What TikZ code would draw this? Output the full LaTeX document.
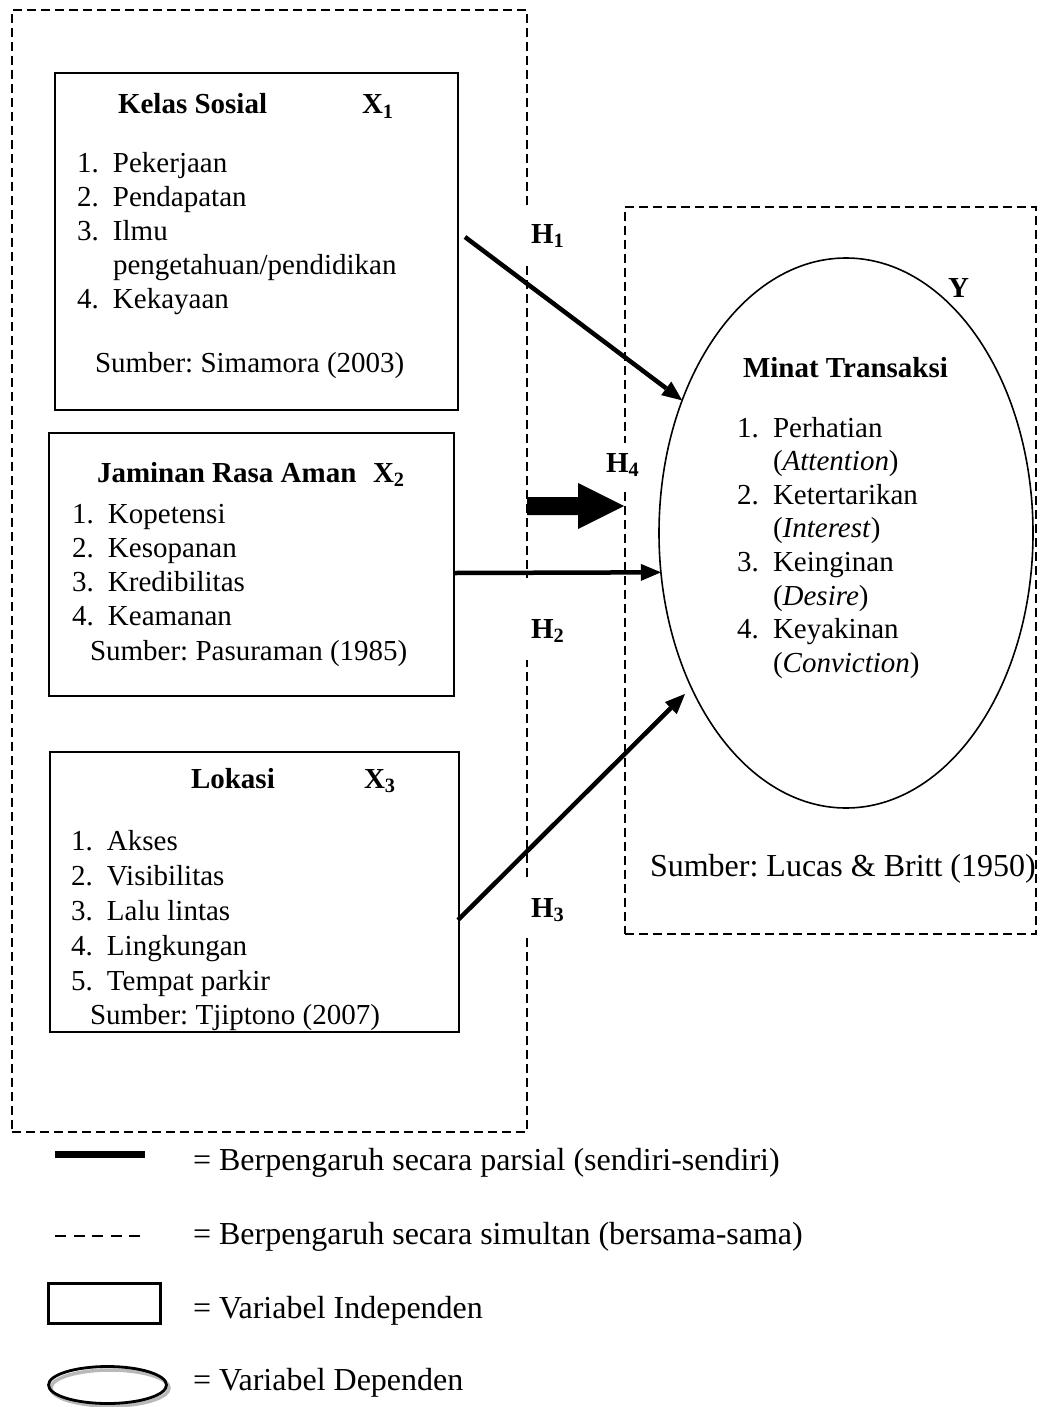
\documentclass[tikz,border=0pt]{standalone}
\usepackage{fontspec}
\setmainfont{Liberation Serif}
\usetikzlibrary{shapes.geometric,arrows.meta}
\newcommand{\numi}[1]{\makebox[36pt][l]{#1}}
\frenchspacing
\begin{document}
\begin{tikzpicture}[x=1pt,y=-1pt,
  every node/.style={font=\fontsize{29}{34}\selectfont, inner sep=0pt, outer sep=0pt},
  txt/.style={anchor=base west},
  bold/.style={font=\fontsize{29}{34}\selectfont\bfseries},
  wide/.style={font=\fontsize{29}{35}\selectfont},
  tight/.style={font=\fontsize{29}{33.6}\selectfont},
  big/.style={font=\fontsize{32}{38}\selectfont},
  indep/.style={draw, line width=1.8pt, inner sep=0pt},
  grp/.style={draw, line width=1.6pt, dash pattern=on 9pt off 5pt},
  arr/.style={line width=4.5pt, -{Triangle[length=20pt,width=17pt,line width=0pt]}}
]
\useasboundingbox (0,0) rectangle (1040,1407);

% group frames
\node[grp, minimum width=515pt, minimum height=1122pt] (gX) at (269.5,571) {};
\node[grp, minimum width=411pt, minimum height=727pt] (gY) at (830.5,570.5) {};

% white gaps behind the H labels
\fill[white] (519,205) rectangle (535,263);
\fill[white] (519,578) rectangle (535,660);
\fill[white] (519,877) rectangle (535,935);
\fill[white] (617,443) rectangle (633,490);

% independent variable boxes
\node[indep, minimum width=403pt, minimum height=337pt] (box1) at (256.5,241.5) {};
\node[indep, minimum width=405pt, minimum height=263pt] (box2) at (251.5,564.5) {};
\node[indep, minimum width=409pt, minimum height=280pt] (box3) at (254.5,892) {};

% dependent variable ellipse
\node[draw, ellipse, line width=1.6pt, minimum width=374pt, minimum height=550pt, inner sep=0pt] (y) at (846,533) {};

% box 1 text
\node[txt,bold] (t1) at (118,114) {Kelas Sosial};
\node[txt,bold] (x1) at (362,114) {X\textsubscript{1}};
\node[txt] (l1) at (77,172.7) {\begin{tabular}[t]{@{}l@{}}
\numi{1.}Pekerjaan\\
\numi{2.}Pendapatan\\
\numi{3.}Ilmu\\
\hspace*{36pt}pengetahuan/pendidikan\\
\numi{4.}Kekayaan
\end{tabular}};
\node[txt] (s1) at (95,372) {Sumber: Simamora (2003)};

% box 2 text
\node[txt,bold] (t2) at (97,482) {Jaminan Rasa Aman};
\node[txt,bold] (x2) at (373,482) {X\textsubscript{2}};
\node[txt] (l2) at (72,523) {\begin{tabular}[t]{@{}l@{}}
\numi{1.}Kopetensi\\
\numi{2.}Kesopanan\\
\numi{3.}Kredibilitas\\
\numi{4.}Keamanan
\end{tabular}};
\node[txt] (s2) at (90,660) {Sumber: Pasuraman (1985)};

% box 3 text
\node[txt,bold] (t3) at (191,788) {Lokasi};
\node[txt,bold] (x3) at (364,788) {X\textsubscript{3}};
\node[txt,wide] (l3) at (71,850) {\begin{tabular}[t]{@{}l@{}}
\numi{1.}Akses\\
\numi{2.}Visibilitas\\
\numi{3.}Lalu lintas\\
\numi{4.}Lingkungan\\
\numi{5.}Tempat parkir
\end{tabular}};
\node[txt] (s3) at (90,1024) {Sumber: Tjiptono (2007)};

% ellipse text
\node[txt,bold] (ty) at (743,377) {Minat Transaksi};
\node[txt,tight] (ly) at (737,437) {\begin{tabular}[t]{@{}l@{}}
\numi{1.}Perhatian\\
\hspace*{36pt}(\textit{Attention})\\
\numi{2.}Ketertarikan\\
\hspace*{36pt}(\textit{Interest})\\
\numi{3.}Keinginan\\
\hspace*{36pt}(\textit{Desire})\\
\numi{4.}Keyakinan\\
\hspace*{36pt}(\textit{Conviction})
\end{tabular}};
\node[txt,bold] (yl) at (948,297) {Y};
\node[txt,big] (sy) at (650,876) {Sumber: Lucas \& Britt (1950)};

% hypothesis labels
\node[txt,bold] (h1) at (531,243) {H\textsubscript{1}};
\node[txt,bold] (h2) at (531,638) {H\textsubscript{2}};
\node[txt,bold] (h3) at (531,917) {H\textsubscript{3}};
\node[txt,bold] (h4) at (606,472) {H\textsubscript{4}};

% partial arrows
\coordinate (h1s) at (465,237);
\coordinate (h2s) at (455,573);
\coordinate (h3s) at (458,920);
\draw[arr] (h1s) -- (y.141.9);
\draw[arr] (h2s) -- (y.192.1);
\draw[arr, shorten >=9pt] (h3s) -- (y.225.2);

% simultaneous block arrow H4
\coordinate (h4s) at (527,505.5);
\coordinate (h4e) at (624,506);
\fill (h4s) ++(0,-8.5) -- ++(51,0) -- ++(0,-14) -- (h4e) -- ++(-46,23) -- ++(0,-14) -- ++(-51,0) -- cycle;

% legend
\draw[line width=7.5pt] (55,1154.5) -- (145,1154.5);
\draw[line width=2pt, dash pattern=on 11pt off 7.5pt] (55,1236) -- (140,1236);
\node[draw, line width=2.5pt, minimum width=112pt, minimum height=40pt] (lgr) at (104.5,1303.5) {};
\draw[gray!55, line width=3.5pt] (110,1388) ellipse [x radius=59pt, y radius=18pt];
\draw[line width=2.8pt] (107.5,1385) ellipse [x radius=59pt, y radius=18.5pt];

\node[txt,big] (lt1) at (193,1170) {= Berpengaruh secara parsial (sendiri-sendiri)};
\node[txt,big] (lt2) at (193,1244) {= Berpengaruh secara simultan (bersama-sama)};
\node[txt,big] (lt3) at (193,1318) {= Variabel Independen};
\node[txt,big] (lt4) at (193,1390) {= Variabel Dependen};
\end{tikzpicture}
\end{document}
